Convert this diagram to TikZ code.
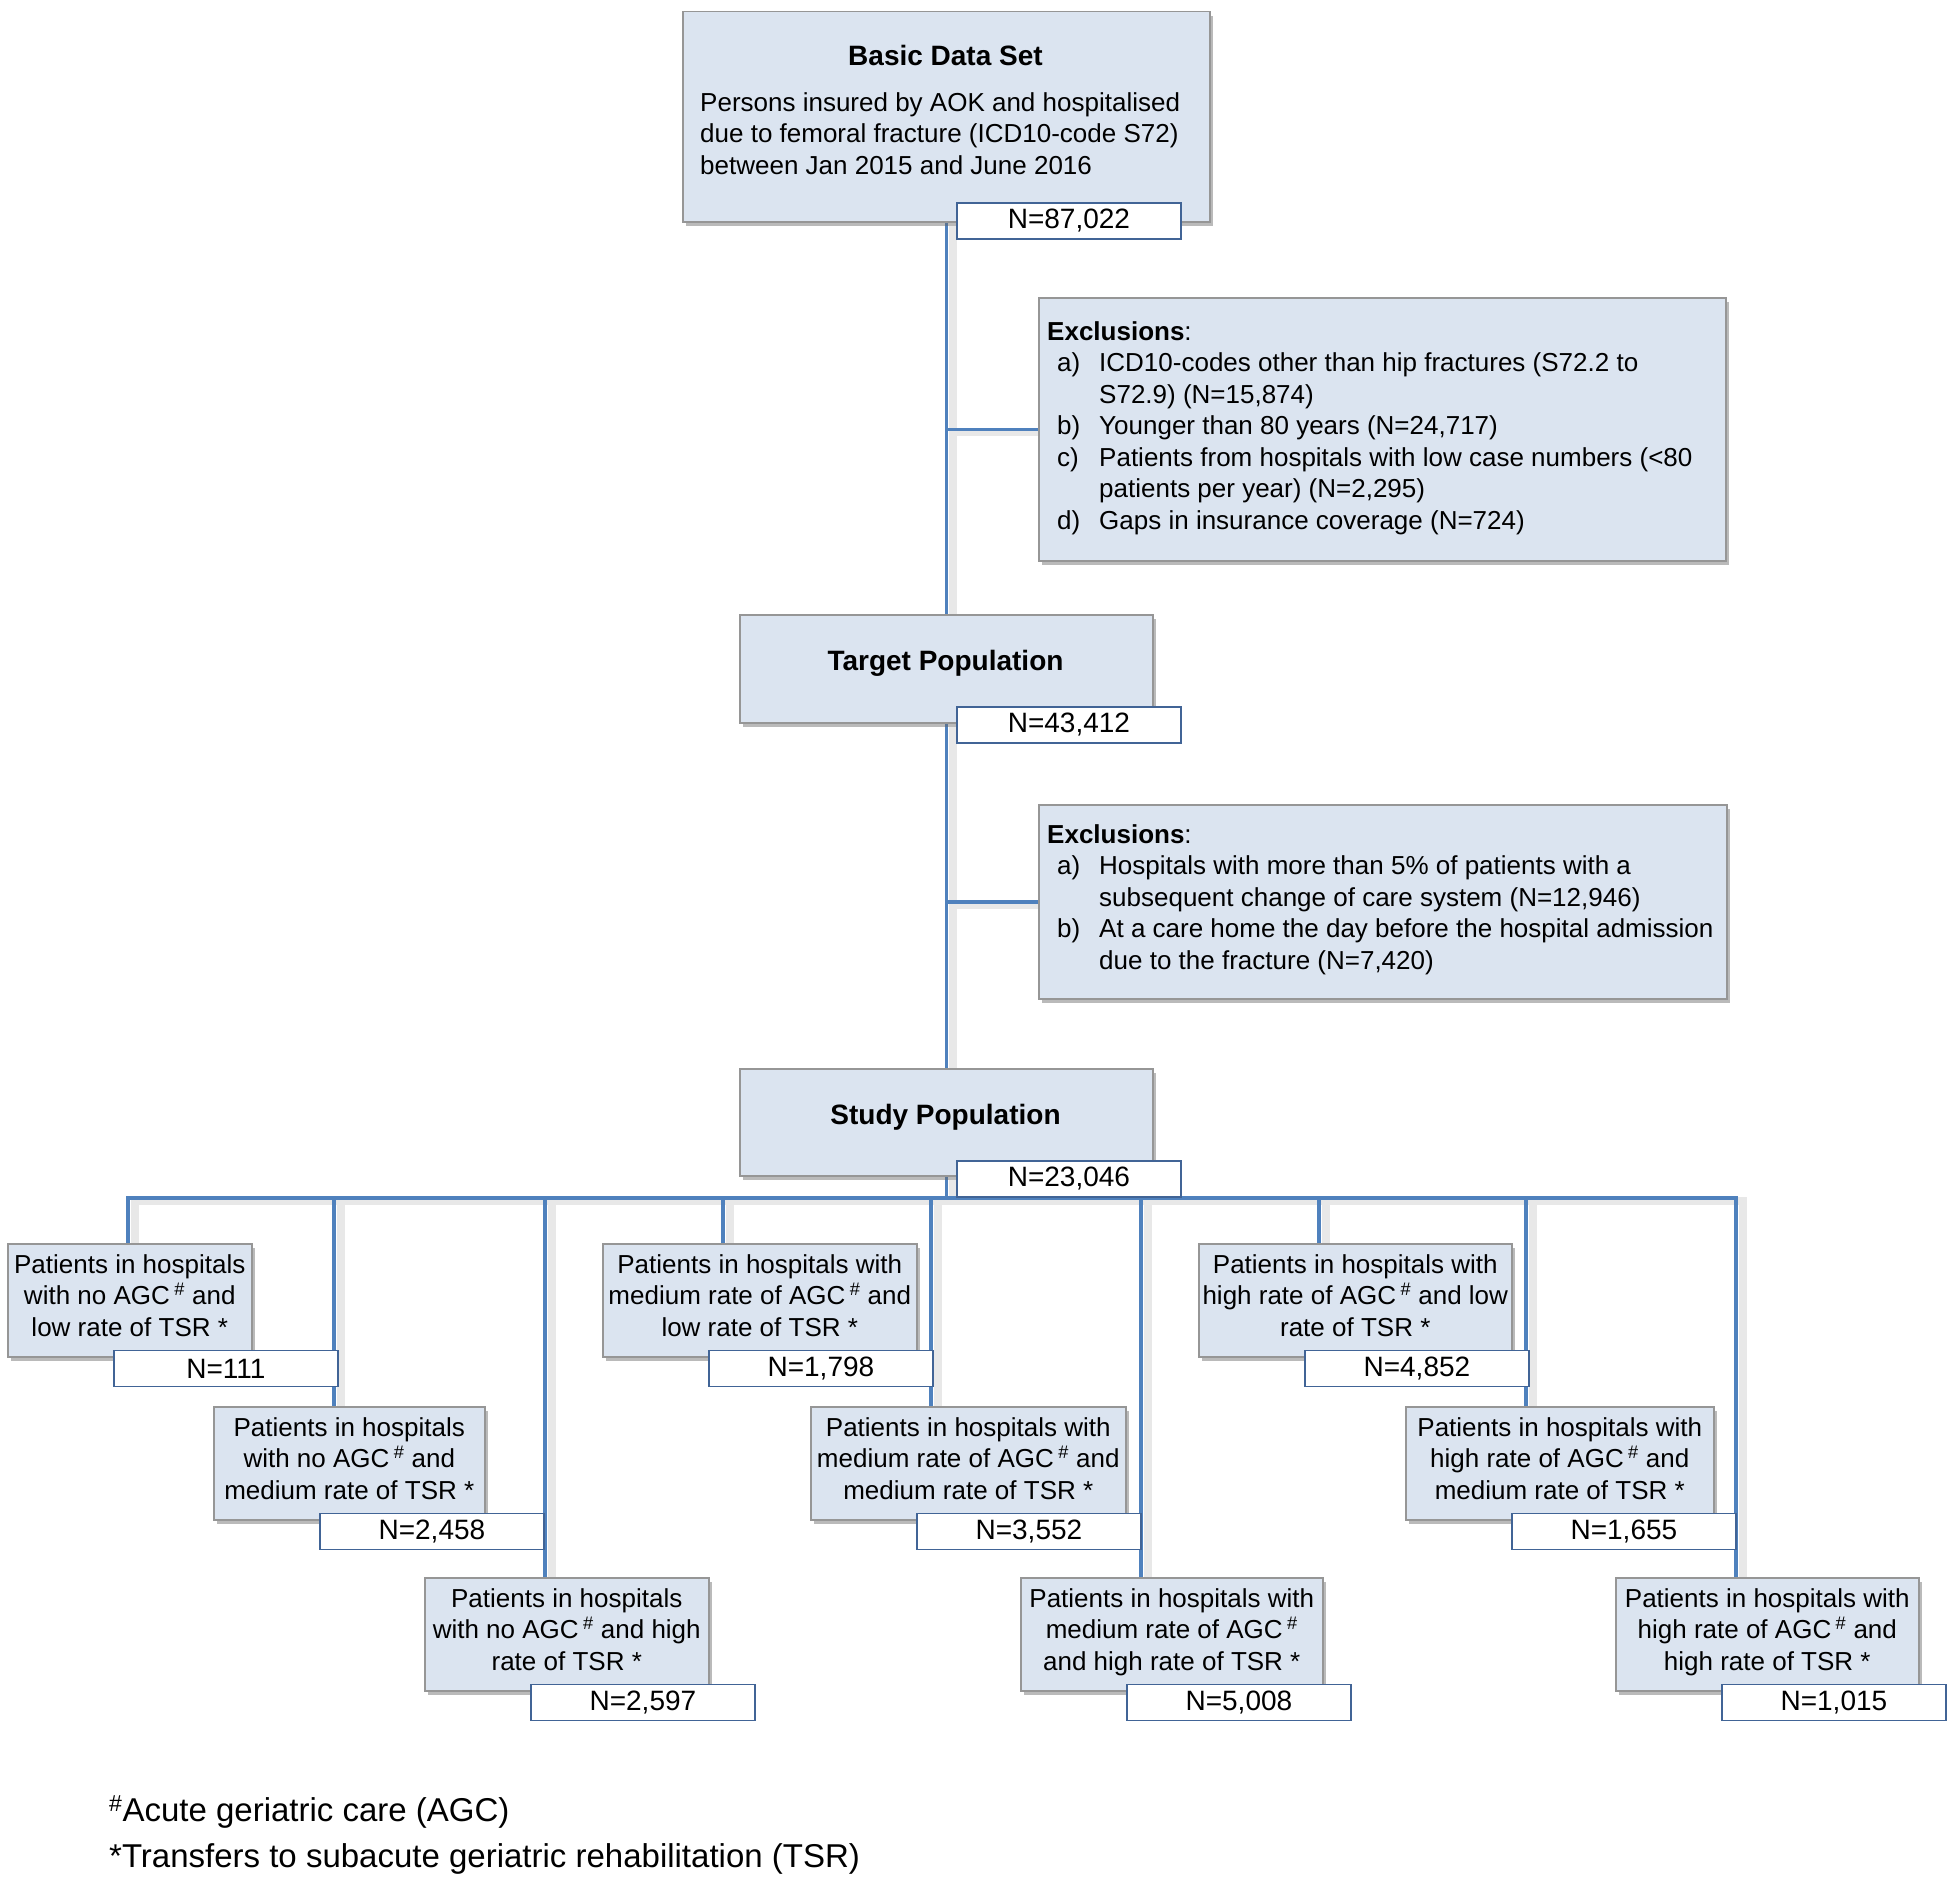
\documentclass[tikz,border=0pt]{standalone}
\usepackage{fontspec}
\setmainfont{Liberation Sans}
\usetikzlibrary{positioning,calc,shadows,backgrounds}
\definecolor{boxfill}{RGB}{219,228,240}
\definecolor{boxline}{RGB}{150,150,150}
\definecolor{linkblue}{RGB}{79,129,189}
\definecolor{nline}{RGB}{65,100,150}
\newcommand{\bodyfont}{\fontsize{26}{31.5}\selectfont}
\newcommand{\headfont}{\fontsize{28}{32}\selectfont\bfseries}
\newcommand{\numfont}{\fontsize{28}{32}\selectfont}
\newcommand{\notefont}{\fontsize{33}{46}\selectfont}
\newcommand{\agc}{AGC\,\textsuperscript{\#}}
\tikzset{
  stage/.style={draw=boxline, fill=boxfill, line width=1.5pt, inner sep=0pt, anchor=north west,
    drop shadow={shadow xshift=3pt, shadow yshift=-4pt, opacity=0.45, fill=black!60}},
  cohort/.style={stage, minimum height=113pt, align=center, font=\bodyfont,
    execute at end node={\rule[-10pt]{0pt}{10pt}}},
  title/.style={font=\headfont, anchor=base, inner sep=0pt},
  listing/.style={font=\bodyfont, align=left, anchor=north west, inner sep=0pt},
  nbox/.style={draw=nline, fill=white, line width=1.8pt, inner sep=0pt, anchor=north west,
    minimum width=224pt, minimum height=36pt, font=\numfont},
  link/.style={draw=linkblue, line width=3.5pt,
    preaction={draw=black!9, line width=8pt, transform canvas={xshift=7pt, yshift=-3pt}}},
}

\begin{document}
\begin{tikzpicture}[x=1pt,y=-1pt]
  \path[use as bounding box] (0,0) rectangle (1950,1876);

  \node[stage, minimum width=527pt, minimum height=210pt] (basic) at (682,11) {};
  \node[title] (basicT) at (945.5,66) {Basic Data Set};
  \node[listing] (basicB) at (700,92) {Persons insured by AOK and hospitalised\\
    due to femoral fracture (ICD10-code S72)\\between Jan 2015 and June 2016};
  \node[nbox] (basicN) at (956,202) {N=87,022};

  \node[stage, minimum width=687pt, minimum height=263pt] (excl1) at (1038,297) {};
  \node[listing] (excl1T) at (1047,321) {\textbf{Exclusions}:\\
    \hspace*{10pt}\makebox[42pt][l]{a)}ICD10-codes other than hip fractures (S72.2 to\\
    \hspace*{52pt}S72.9) (N=15,874)\\
    \hspace*{10pt}\makebox[42pt][l]{b)}Younger than 80 years (N=24,717)\\
    \hspace*{10pt}\makebox[42pt][l]{c)}Patients from hospitals with low case numbers (<80\\
    \hspace*{52pt}patients per year) (N=2,295)\\
    \hspace*{10pt}\makebox[42pt][l]{d)}Gaps in insurance coverage (N=724)};

  \node[stage, minimum width=413pt, minimum height=108pt] (target) at (739,614) {};
  \node[title] (targetT) at (945.5,670) {Target Population};
  \node[nbox] (targetN) at (956,706) {N=43,412};

  \node[stage, minimum width=688pt, minimum height=194pt] (excl2) at (1038,804) {};
  \node[listing] (excl2T) at (1047,824) {\textbf{Exclusions}:\\
    \hspace*{10pt}\makebox[42pt][l]{a)}Hospitals with more than 5\% of patients with a\\
    \hspace*{52pt}subsequent change of care system (N=12,946)\\
    \hspace*{10pt}\makebox[42pt][l]{b)}At a care home the day before the hospital admission\\
    \hspace*{52pt}due to the fracture (N=7,420)};

  \node[stage, minimum width=413pt, minimum height=107pt] (study) at (739,1068) {};
  \node[title] (studyT) at (945.5,1124) {Study Population};
  \node[nbox] (studyN) at (956,1160) {N=23,046};

  % no AGC
  \node[cohort, minimum width=244pt] (a1) at (7,1243) {Patients in hospitals\\with no \agc{} and\\low rate of TSR *};
  \node[nbox] (a1N) at ($(a1.south west)+(106,-8)$) {N=111};
  \node[cohort, minimum width=271pt] (a2) at (213,1406) {Patients in hospitals\\with no \agc{} and\\medium rate of TSR *};
  \node[nbox] (a2N) at ($(a2.south west)+(106,-8)$) {N=2,458};
  \node[cohort, minimum width=284pt] (a3) at (424,1577) {Patients in hospitals\\with no \agc{} and high\\rate of TSR *};
  \node[nbox] (a3N) at ($(a3.south west)+(106,-8)$) {N=2,597};

  % medium AGC
  \node[cohort, minimum width=314pt] (b1) at (602,1243) {Patients in hospitals with\\medium rate of \agc{} and\\low rate of TSR *};
  \node[nbox] (b1N) at ($(b1.south west)+(106,-8)$) {N=1,798};
  \node[cohort, minimum width=315pt] (b2) at (810,1406) {Patients in hospitals with\\medium rate of \agc{} and\\medium rate of TSR *};
  \node[nbox] (b2N) at ($(b2.south west)+(106,-8)$) {N=3,552};
  \node[cohort, minimum width=302pt] (b3) at (1020,1577) {Patients in hospitals with\\medium rate of \agc\\and high rate of TSR *};
  \node[nbox] (b3N) at ($(b3.south west)+(106,-8)$) {N=5,008};

  % high AGC
  \node[cohort, minimum width=313pt] (c1) at (1198,1243) {Patients in hospitals with\\high rate of \agc{} and low\\rate of TSR *};
  \node[nbox] (c1N) at ($(c1.south west)+(106,-8)$) {N=4,852};
  \node[cohort, minimum width=308pt] (c2) at (1405,1406) {Patients in hospitals with\\high rate of \agc{} and\\medium rate of TSR *};
  \node[nbox] (c2N) at ($(c2.south west)+(106,-8)$) {N=1,655};
  \node[cohort, minimum width=303pt] (c3) at (1615,1577) {Patients in hospitals with\\high rate of \agc{} and\\high rate of TSR *};
  \node[nbox] (c3N) at ($(c3.south west)+(106,-8)$) {N=1,015};

  \node[font=\notefont, anchor=base west, inner sep=0pt] (note1) at (109,1821) {\textsuperscript{\#}Acute geriatric care (AGC)};
  \node[font=\notefont, anchor=base west, inner sep=0pt] (note2) at (109,1867) {*Transfers to subacute geriatric rehabilitation (TSR)};

  \coordinate (bus) at (study.south |- studyN.south);
  \foreach \b in {a1,a2,a3,b1,b2,b3,c1,c2,c3}
    \coordinate (\b top) at ($(\b.north west)+(121,0)$);

  \begin{scope}[on background layer]
    \fill[white] (0,0) rectangle (1950,1876);
    \draw[link] (basic.south) -- (target.north);
    \draw[link] (target.south) -- (study.north);
    \draw[link] (study.south) -- (bus);
    \draw[link] (excl1.west -| basic.south) -- (excl1.west);
    \draw[link] (excl2.west -| basic.south) -- (excl2.west);
    \draw[link] (a1top) -- (a1top |- bus) -- (c3top |- bus) -- (c3top);
    \foreach \b in {a2,a3,b1,b2,b3,c1,c2}
      \draw[link] (\b top |- bus) -- (\b top);
  \end{scope}
\end{tikzpicture}
\end{document}
